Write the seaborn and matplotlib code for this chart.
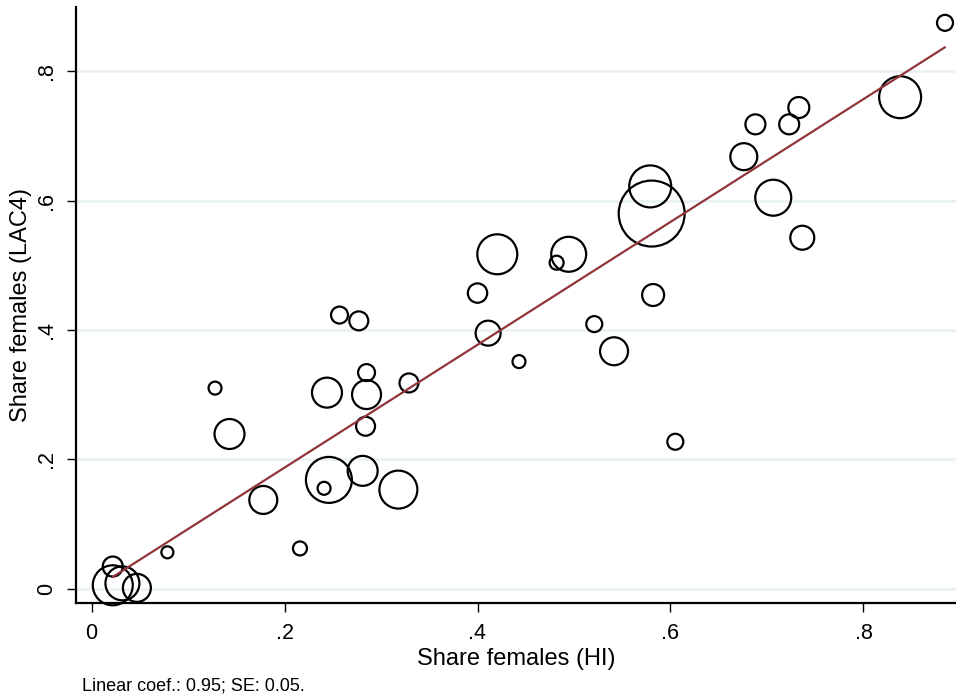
import numpy as np
import pandas as pd
import seaborn as sns
import matplotlib
matplotlib.use("Agg")
import matplotlib.pyplot as plt

# Share of females by occupation group: household survey (HI) vs LAC4
share_hi = [0.8845, 0.838, 0.733, 0.688, 0.723, 0.676, 0.7065, 0.7366, 0.579, 0.5805,
            0.582, 0.605, 0.5415, 0.521, 0.4945, 0.482, 0.4205, 0.400, 0.411, 0.443,
            0.329, 0.285, 0.285, 0.244, 0.257, 0.277, 0.128, 0.143, 0.284, 0.246,
            0.241, 0.281, 0.318, 0.178, 0.216, 0.0786, 0.022, 0.022, 0.032, 0.047]
share_lac4 = [0.875, 0.760, 0.744, 0.718, 0.718, 0.668, 0.6045, 0.5426, 0.622, 0.580,
              0.454, 0.227, 0.367, 0.409, 0.517, 0.504, 0.517, 0.457, 0.395, 0.351,
              0.318, 0.334, 0.300, 0.303, 0.423, 0.414, 0.310, 0.239, 0.251, 0.168,
              0.155, 0.182, 0.153, 0.137, 0.062, 0.056, 0.034, 0.005, 0.008, 0.001]
# Relative weight of each group (marker area is proportional to it)
weight = [64, 441, 110, 100, 100, 182, 324, 144, 441, 1089,
          121, 64, 196, 64, 306, 49, 400, 94, 156, 42,
          90, 72, 210, 225, 72, 90, 42, 225, 90, 529,
          42, 225, 361, 196, 49, 36, 100, 400, 289, 196]

# Linear fit reported in the note
coef = 0.95
intercept = -0.003
se = 0.05

x_ticks = [0, 0.2, 0.4, 0.6, 0.8]
x_tick_labels = ["0", ".2", ".4", ".6", ".8"]
y_ticks = [0, 0.2, 0.4, 0.6, 0.8]
y_tick_labels = ["0", ".2", ".4", ".6", ".8"]

df = pd.DataFrame({"hi": share_hi, "lac4": share_lac4, "w": weight})

sns.set_style("white")
plt.rcParams["font.family"] = ["Liberation Sans", "DejaVu Sans"]
plt.rcParams["text.color"] = "black"
plt.rcParams["axes.labelcolor"] = "black"
plt.rcParams["xtick.color"] = "black"
plt.rcParams["ytick.color"] = "black"

fig = plt.figure(figsize=(9.56, 7.0), dpi=100)
ax = fig.add_axes([76 / 956, 1 - 603 / 700, 880 / 956, 596 / 700])

# horizontal grid
for yt in y_ticks:
    ax.axhline(yt, color="#EAF2F3", lw=2.0, zorder=0)

wmax = max(weight)
sns.scatterplot(data=df, x="hi", y="lac4", size="w", sizes=(0, 2.07 * wmax),
                size_norm=(0, wmax), legend=False, ax=ax,
                facecolor="none", edgecolor="black", linewidth=1.6, zorder=3,
                clip_on=False)

xs = np.array([min(share_hi), max(share_hi)])
fit = pd.DataFrame({"x": xs, "y": intercept + coef * xs})
sns.lineplot(data=fit, x="x", y="y", color="#90353B", lw=1.6, ax=ax, zorder=4)

ax.set_xlim(-0.0161, 0.8959)
ax.set_ylim(-0.0224, 0.8995)

ax.set_xticks(x_ticks)
ax.set_xticklabels(x_tick_labels, fontsize=15.5, color="black")
ax.set_yticks(y_ticks)
ax.set_yticklabels(y_tick_labels, fontsize=15.5, rotation=90, va="center", color="black")

ax.tick_params(axis="both", which="both", direction="out", length=6.5, width=1.0,
               color="black", left=True, bottom=True)
ax.tick_params(axis="x", pad=8)
ax.tick_params(axis="y", pad=7)

for side in ["top", "right"]:
    ax.spines[side].set_visible(False)
for side in ["left", "bottom"]:
    ax.spines[side].set_color("black")
    ax.spines[side].set_linewidth(1.6)

ax.set_xlabel("Share females (HI)", fontsize=17, labelpad=3, color="black")
ax.set_ylabel("Share females (LAC4)", fontsize=17, labelpad=3, color="black")

fig.text(82 / 956, 1 - 686 / 700, f"Linear coef.: {coef:.2f}; SE: {se:.2f}.",
         fontsize=13, va="center", ha="left", color="black")

fig.savefig("out.png", dpi=100)
